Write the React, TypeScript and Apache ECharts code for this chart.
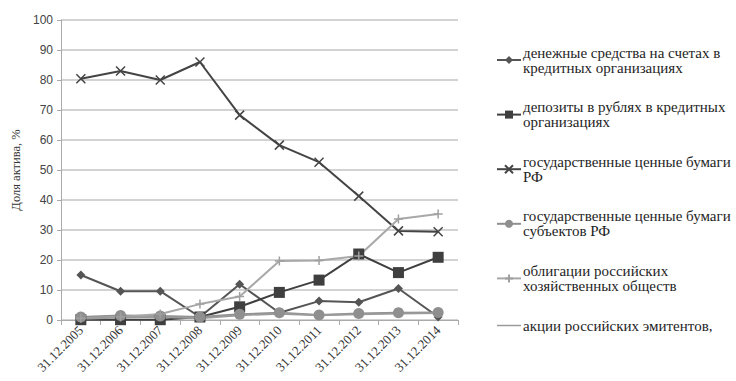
import React, { useEffect, useRef } from "react";
import * as echarts from "echarts";

const categories = ["31.12.2005","31.12.2006","31.12.2007","31.12.2008","31.12.2009","31.12.2010","31.12.2011","31.12.2012","31.12.2013","31.12.2014"];
const seriesNames = [
  "денежные средства на счетах в кредитных организациях",
  "депозиты в рублях в кредитных организациях",
  "государственные ценные бумаги РФ",
  "государственные ценные бумаги субъектов РФ",
  "облигации российских хозяйственных обществ",
  "акции российских эмитентов,",
];
const legendLabels = [
  "денежные средства на счетах в\nкредитных организациях",
  "депозиты в рублях в кредитных\nорганизациях",
  "государственные ценные бумаги\nРФ",
  "государственные ценные бумаги\nсубъектов РФ",
  "облигации российских\nхозяйственных обществ",
  "акции российских эмитентов,",
];
const cashValues = [15, 9.6, 9.6, 1, 11.9, 2.4, 6.3, 5.9, 10.5, 1];
const depositValues = [0.1, 0.1, 0.1, 1, 4.4, 9.2, 13.3, 22, 15.8, 20.9];
const govValues = [80.4, 83, 80, 86, 68.3, 58.3, 52.6, 41.3, 29.7, 29.4];
const regionalValues = [1, 1.5, 1.3, 1, 1.9, 2.4, 1.7, 2.2, 2.4, 2.5];
const bondValues = [0.6, 1, 2, 5.3, 7.8, 19.7, 19.8, 21.3, 33.7, 35.3];
const stockValues = [0.4, 0.8, 1, 0.6, 1.6, 2.1, 1.6, 1.9, 2.2, 2.3];
const yTicks = { min: 0, max: 100, interval: 10 };

export default function App() {
  const ref = useRef<HTMLDivElement>(null);
  useEffect(() => {
    const chart = echarts.init(ref.current!, null, { renderer: "svg" });
    const serif = "'Liberation Serif', 'DejaVu Serif', serif";
    const mk = (name: string, data: number[], color: string, symbol: string, size: number, extra: any = {}) => ({
      name, type: "line", data, symbol, symbolSize: size,
      lineStyle: { color, width: 2 },
      itemStyle: { color },
      ...extra,
    });
    chart.setOption({
      animation: false,
      backgroundColor: "#fff",
      grid: { left: 61, right: 278, top: 20, bottom: 61 },
      legend: {
        orient: "vertical",
        left: 491,
        top: 40,
        itemWidth: 24,
        itemHeight: 10,
        itemGap: 24.6,
        symbolKeepAspect: true,
        data: seriesNames.map((n, i) =>
          i === 5 ? { name: n, icon: "path://M0 0L26 0L26 1.6L0 1.6Z" } : { name: n }
        ),
        formatter: (n: string) => legendLabels[seriesNames.indexOf(n)],
        textStyle: { fontFamily: serif, fontSize: 15, color: "#1e1e1e", lineHeight: 15, padding: [0, 0, 0, -3] },
      },
      xAxis: {
        type: "category",
        data: categories,
        boundaryGap: true,
        axisLine: { lineStyle: { color: "#aaa", width: 1 } },
        axisTick: { show: true, lineStyle: { color: "#aaa" }, length: 5 },
        axisLabel: { rotate: 45, fontFamily: serif, fontSize: 13, color: "#333", margin: 8 },
      },
      yAxis: {
        type: "value",
        min: yTicks.min, max: yTicks.max, interval: yTicks.interval,
        name: "Доля актива, %",
        nameLocation: "middle",
        nameGap: 38,
        nameRotate: 90,
        nameTextStyle: { fontFamily: serif, fontSize: 12.5, color: "#333" },
        axisLine: { show: true, lineStyle: { color: "#aaa" } },
        axisTick: { show: true, lineStyle: { color: "#aaa" }, length: 4 },
        axisLabel: { fontFamily: "Liberation Sans", fontSize: 12, color: "#444", margin: 8 },
        splitLine: { lineStyle: { color: "#c4c4c4", width: 1.5 } },
      },
      series: [
        mk(seriesNames[0], cashValues, "#555555", "diamond", 9),
        mk(seriesNames[1], depositValues, "#3f3f3f", "rect", 11),
        mk(seriesNames[2], govValues, "#444444", "path://M0 0L10 10M10 0L0 10", 9, {
          itemStyle: { color: "transparent", borderColor: "#444444", borderWidth: 1.5 },
        }),
        mk(seriesNames[3], regionalValues, "#8f8f8f", "circle", 11),
        mk(seriesNames[4], bondValues, "#a8a8a8", "path://M5 0L5 10M0 5L10 5", 9, {
          itemStyle: { color: "transparent", borderColor: "#a0a0a0", borderWidth: 1.5 },
        }),
        mk(seriesNames[5], stockValues, "#9a9a9a", "none", 0),
      ],
    });
    return () => chart.dispose();
  }, []);
  return <div ref={ref} style={{ width: 736, height: 381, position: "absolute", left: 0, top: 0 }} />;
}
